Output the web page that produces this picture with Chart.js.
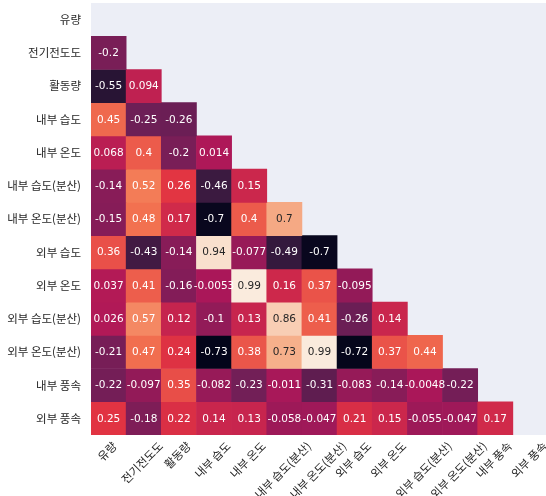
<!DOCTYPE html>
<html><head><meta charset="utf-8">
<script src="https://cdn.jsdelivr.net/npm/chart.js@4"></script>
<style>html,body{margin:0;padding:0;background:#fff;overflow:hidden}</style>
</head><body>
<canvas id="c" width="548" height="496" style="display:block;width:548px;height:496px"></canvas>
<script>
const labels = ['유량','전기전도도','활동량','내부 습도','내부 온도','내부 습도(분산)','내부 온도(분산)','외부 습도','외부 온도','외부 습도(분산)','외부 온도(분산)','내부 풍속','외부 풍속'];

// lower triangle of the correlation matrix (row i, columns 0..i-1)
const lowerTriangle = [
  [],
  [-0.2],
  [-0.55, 0.094],
  [0.45, -0.25, -0.26],
  [0.068, 0.4, -0.2, 0.014],
  [-0.14, 0.52, 0.26, -0.46, 0.15],
  [-0.15, 0.48, 0.17, -0.7, 0.4, 0.7],
  [0.36, -0.43, -0.14, 0.94, -0.077, -0.49, -0.7],
  [0.037, 0.41, -0.16, -0.0053, 0.99, 0.16, 0.37, -0.095],
  [0.026, 0.57, 0.12, -0.1, 0.13, 0.86, 0.41, -0.26, 0.14],
  [-0.21, 0.47, 0.24, -0.73, 0.38, 0.73, 0.99, -0.72, 0.37, 0.44],
  [-0.22, -0.097, 0.35, -0.082, -0.23, -0.011, -0.31, -0.083, -0.14, -0.0048, -0.22],
  [0.25, -0.18, 0.22, 0.14, 0.13, -0.058, -0.047, 0.21, 0.15, -0.055, -0.047, 0.17]
];

const allVals = lowerTriangle.flat();
const vmin = Math.min(...allVals), vmax = Math.max(...allVals);

const rocketStops = [
  [0.000, [3,5,26]],
  [0.143, [53,25,62]],
  [0.286, [112,31,87]],
  [0.429, [173,23,89]],
  [0.571, [225,51,66]],
  [0.714, [243,118,81]],
  [0.857, [246,180,143]],
  [1.000, [250,235,221]]
];
function cmapRGB(v){
  let t = (v - vmin) / (vmax - vmin);
  t = Math.max(0, Math.min(1, t));
  for (let k = 1; k < rocketStops.length; k++) {
    const [p1, c1] = rocketStops[k];
    const [p0, c0] = rocketStops[k-1];
    if (t <= p1) {
      const f = (t - p0) / (p1 - p0);
      return c0.map((c, i) => Math.round(c + (c1[i] - c) * f));
    }
  }
  return rocketStops[rocketStops.length-1][1];
}
function toCss(rgb){ return `rgb(${rgb[0]},${rgb[1]},${rgb[2]})`; }
function lum(rgb){
  const l = rgb.map(c => { c /= 255; return c <= 0.03928 ? c/12.92 : Math.pow((c+0.055)/1.055, 2.4); });
  return 0.2126*l[0] + 0.7152*l[1] + 0.0722*l[2];
}
function fmt(v){ return String(Number(v.toPrecision(2))); }

const datasets = [];
for (let i = 1; i < labels.length; i++) {
  const row = lowerTriangle[i];
  datasets.push({
    label: labels[i],
    data: labels.map((_, j) => j < i ? [i, i + 1] : null),
    backgroundColor: labels.map((_, j) => j < i ? toCss(cmapRGB(row[j])) : 'rgba(0,0,0,0)'),
    corr: labels.map((_, j) => j < i ? row[j] : null),
    borderWidth: 0,
    barPercentage: 1,
    categoryPercentage: 1,
    grouped: false
  });
}

const bgPlugin = {
  id: 'bg',
  beforeDraw(chart){
    const {ctx, chartArea: a} = chart;
    ctx.save();
    ctx.fillStyle = '#eceef6';
    ctx.fillRect(a.left, a.top, a.right - a.left, a.bottom - a.top);
    ctx.restore();
  }
};

const annotPlugin = {
  id: 'annot',
  afterDatasetsDraw(chart){
    const ctx = chart.ctx;
    ctx.save();
    ctx.font = '10.5px "DejaVu Sans"';
    ctx.textAlign = 'center';
    ctx.textBaseline = 'middle';
    chart.data.datasets.forEach((ds, di) => {
      const meta = chart.getDatasetMeta(di);
      meta.data.forEach((el, j) => {
        const v = ds.corr[j];
        if (v === null || v === undefined) return;
        const p = el.getProps(['x','y','base'], true);
        const rgb = cmapRGB(v);
        ctx.fillStyle = lum(rgb) > 0.408 ? '#262626' : '#ffffff';
        ctx.fillText(fmt(v), p.x, (p.y + p.base) / 2 + 0.5);
      });
    });
    ctx.restore();
  }
};

const xLabelPlugin = {
  id: 'xlabels',
  afterDraw(chart){
    const ctx = chart.ctx;
    const xs = chart.scales.x;
    const top = chart.chartArea.bottom + 5;
    ctx.save();
    ctx.font = '11.5px "Noto Sans CJK KR", "DejaVu Sans"';
    ctx.fillStyle = '#262626';
    ctx.textAlign = 'center';
    ctx.textBaseline = 'middle';
    const h = 11;
    labels.forEach((lab, j) => {
      const x = xs.getPixelForValue(j);
      const w = ctx.measureText(lab).width;
      const cy = top + (w + h) * Math.SQRT1_2 / 2;
      ctx.save();
      ctx.translate(x - 1.5, cy);
      ctx.rotate(-Math.PI / 4);
      ctx.fillText(lab, 0, 0);
      ctx.restore();
    });
    ctx.restore();
  }
};

new Chart(document.getElementById('c'), {
  type: 'bar',
  data: { labels, datasets },
  options: {
    responsive: false,
    animation: false,
    devicePixelRatio: 1,
    layout: { padding: { left: 0, right: 0, top: 3, bottom: 61 } },
    plugins: { legend: { display: false }, tooltip: { enabled: false } },
    scales: {
      x: { type: 'category', display: false, offset: true },
      y: {
        type: 'linear', min: 0, max: labels.length, reverse: true,
        grid: { display: false, drawTicks: false },
        border: { display: false },
        afterBuildTicks: s => { s.ticks = labels.map((_, i) => ({ value: i + 0.5 })); },
        afterFit: s => { s.width = 91; s.paddingTop = 0; s.paddingBottom = 0; },
        ticks: {
          autoSkip: false, padding: 10, color: '#262626',
          font: { family: '"Noto Sans CJK KR", "DejaVu Sans"', size: 11.5 },
          callback: (v, idx) => labels[idx]
        }
      }
    }
  },
  plugins: [bgPlugin, annotPlugin, xLabelPlugin]
});
</script>
</body></html>
